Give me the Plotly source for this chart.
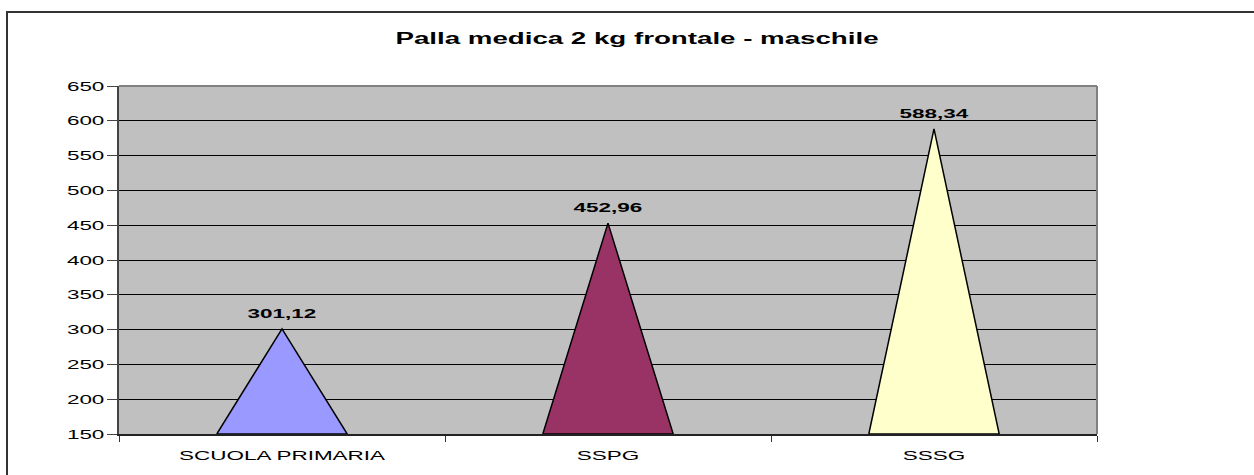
import plotly.graph_objects as go

categories = ["SCUOLA PRIMARIA", "SSPG", "SSSG"]
values = [301.12, 452.96, 588.34]
colors = ["#9999FF", "#993366", "#FFFFCC"]
y_ticks = [150, 200, 250, 300, 350, 400, 450, 500, 550, 600, 650]
title_text = "Palla medica 2 kg frontale - maschile"
baseline = 150
half_width = 0.2

FONT = "Liberation Sans, Arial, sans-serif"

fig = go.Figure()
for i, (cat, v, c) in enumerate(zip(categories, values, colors)):
    fig.add_trace(go.Scatter(
        x=[i - half_width, i, i + half_width, i - half_width],
        y=[baseline, v, baseline, baseline],
        mode="lines", fill="toself", fillcolor=c,
        line=dict(color="black", width=1.5),
        name=cat, showlegend=False, hoverinfo="skip",
    ))
    fig.add_annotation(
        x=i, y=v, text=f"{v:.2f}".replace(".", ","),
        showarrow=False, yanchor="bottom", yshift=6,
        font=dict(family=FONT, size=13, color="black", weight="bold"),
    )

L, R, T, B = 119, 157, 86, 36
W, H = 1254, 475
pw, ph = W - L - R, H - T - B

def px_x(px):
    return (px - L) / pw

def px_y(py):
    return (H - B - py) / ph

fig.update_layout(
    width=W, height=H,
    margin=dict(l=L, r=R, t=T, b=B),
    paper_bgcolor="white", plot_bgcolor="#C0C0C0",
    title=dict(text=title_text, x=0.508, xref="container", xanchor="center",
               y=1 - 38 / H, yref="container", yanchor="middle",
               font=dict(family=FONT, size=16, color="black", weight="bold")),
    xaxis=dict(range=[-0.5, len(categories) - 0.5], tickvals=list(range(len(categories))),
               ticktext=categories, showgrid=False, zeroline=False,
               showline=True, linecolor="#222", linewidth=2,
               ticks="outside", ticklen=8, tickcolor="rgba(0,0,0,0)",
               tickfont=dict(family=FONT, size=13, color="black"),
               minor=dict(tickvals=[k - 0.5 for k in range(len(categories) + 1)],
                          ticks="outside", ticklen=6, tickcolor="#333", tickwidth=1, showgrid=False),
               fixedrange=True),
    yaxis=dict(range=[y_ticks[0], y_ticks[-1]], tickvals=y_ticks,
               showgrid=True, gridcolor="black", gridwidth=1, zeroline=False,
               showline=True, linecolor="#444", linewidth=2,
               ticks="outside", ticklen=10, tickcolor="#444", tickwidth=1,
               tickfont=dict(family=FONT, size=13, color="black"),
               fixedrange=True),
    shapes=[
        dict(type="line", xref="paper", yref="paper", x0=0, x1=1, y0=1, y1=1,
             line=dict(color="#808080", width=2), layer="above"),
        dict(type="line", xref="paper", yref="paper", x0=1, x1=1, y0=0, y1=1,
             line=dict(color="#808080", width=2), layer="above"),
        dict(type="rect", xref="paper", yref="paper",
             x0=px_x(7), x1=px_x(1262), y0=px_y(485), y1=px_y(11),
             line=dict(color="#333", width=2), layer="above"),
    ],
)

stretch_js = """
document.documentElement.style.margin = '0';
document.body.style.margin = '0';
document.body.style.overflow = 'hidden';
var gd = document.getElementById('{plot_id}');
gd.querySelectorAll('svg text').forEach(function(t){
  var w = t.getComputedTextLength();
  if (w > 0) {
    t.setAttribute('textLength', (w * 1.73).toFixed(1));
    t.setAttribute('lengthAdjust', 'spacingAndGlyphs');
  }
});
"""

fig.write_html("out.html", config={"displayModeBar": False}, post_script=stretch_js)
